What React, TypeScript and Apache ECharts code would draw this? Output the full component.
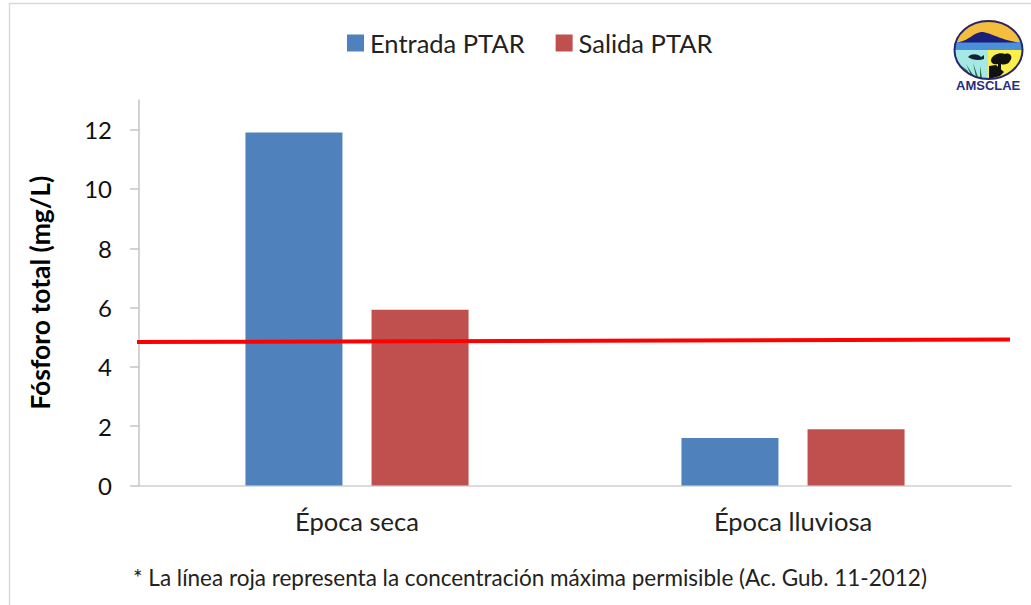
import React, { useEffect, useRef } from "react";
import * as echarts from "echarts";

const categories = ["Época seca", "Época lluviosa"];
const entrada = [11.9, 1.6];
const salida = [5.93, 1.9];
const limitLine = [[-5, 4.84], [871, 4.92]];
const yTicks = [0, 2, 4, 6, 8, 10, 12];
const footnote = "* La línea roja representa la concentración máxima permisible (Ac. Gub. 11-2012)";
const FONT = "Lato";

const ell = "M954.5 50 A34 29 0 0 1 1022.5 50 A34 29 0 0 1 954.5 50 Z";
echarts.graphic.registerShape("logoSky", echarts.graphic.extendPath("M955 44 A34 29 0 0 1 1022 44 Z", {}));
echarts.graphic.registerShape("logoMount", echarts.graphic.extendPath("M958 42.5 C970 40 973 33 981 32 C990 32 998 39 1018 42.5 Z", {}));
echarts.graphic.registerShape("logoBand", echarts.graphic.extendPath("M955 42 L1022 42 L1022.5 50 L954.5 50 Z", {}));
echarts.graphic.registerShape("logoLeft", echarts.graphic.extendPath("M954.5 50 L988 50 L988 79 A34 29 0 0 1 954.5 50 Z", {}));
echarts.graphic.registerShape("logoRight", echarts.graphic.extendPath("M988 50 L1022.5 50 A34 29 0 0 1 988 79 Z", {}));
echarts.graphic.registerShape("logoShore", echarts.graphic.extendPath("M989 66 L996 65 L1004 72 L1000 76 L989 79 Z", {}));
echarts.graphic.registerShape("logoTree", echarts.graphic.extendPath("M991 60 C992 55 1000 52 1005 54 C1011 52 1013 58 1010 61 C1008 65 1003 65 1001 64 L1001 70 L998 70 L998 64 C995 65 991 64 991 60 Z", {}));
echarts.graphic.registerShape("logoFish", echarts.graphic.extendPath("M968 57 C972 53 978 54 981 57 L984 55 L984 59 C979 61 972 60 968 57 Z", {}));
echarts.graphic.registerShape("logoGrass", echarts.graphic.extendPath("M966 64 L971 75 L973 75 Z M973 63 L976 77 L978 77 Z M980 66 L980 78 L982 78 Z M962 66 L967 72 L968 71 Z", {}));
echarts.graphic.registerShape("logoOutline", echarts.graphic.extendPath(ell, {}));

export default function App() {
  const ref = useRef<HTMLDivElement>(null);
  useEffect(() => {
    document.body.style.margin = "0";
    const chart = echarts.init(ref.current!, null, { renderer: "svg" });
    chart.setOption({
      animation: false,
      backgroundColor: "#fff",
      textStyle: { fontFamily: FONT },
      legend: {
        top: 25,
        left: 342,
        icon: "rect",
        itemWidth: 17,
        itemHeight: 17,
        itemGap: 31,
        data: ["Entrada PTAR", "Salida PTAR"],
        textStyle: { fontFamily: FONT, fontSize: 25.5, color: "#222", padding: [0, 0, 0, 1] },
      },
      grid: { left: 139, right: 20, top: 100, bottom: 119.5 },
      xAxis: [
        {
          type: "category",
          data: categories,
          axisLine: { lineStyle: { color: "#d0d0d0", width: 1.5 } },
          axisTick: { show: false },
          axisLabel: { fontFamily: FONT, fontSize: 25.5, color: "#222", margin: 22 },
        },
        { type: "value", min: 0, max: 872, show: false },
      ],
      yAxis: {
        type: "value",
        min: 0,
        max: 13,
        interval: 2,
        name: "Fósforo total (mg/L)",
        nameLocation: "middle",
        nameGap: 86,
        nameTextStyle: { fontFamily: FONT, fontSize: 26.5, fontWeight: "bold", color: "#000" },
        axisLine: { show: true, lineStyle: { color: "#c4c4c4", width: 1.5 } },
        axisTick: { show: true, length: 9, customValues: yTicks, lineStyle: { color: "#c4c4c4", width: 1.5 } },
        axisLabel: { fontFamily: FONT, fontSize: 24, color: "#111", margin: 27, customValues: yTicks },
        splitLine: { show: false },
      },
      series: [
        { name: "Entrada PTAR", type: "bar", data: entrada, barWidth: 97, barGap: "30%", itemStyle: { color: "#4F81BD" } },
        { name: "Salida PTAR", type: "bar", data: salida, barWidth: 97, barGap: "30%", itemStyle: { color: "#C0504D" } },
        {
          name: "Límite",
          type: "line",
          xAxisIndex: 1,
          data: limitLine,
          symbol: "none",
          clip: false,
          lineStyle: { color: "#FF0000", width: 4 },
          z: 5,
        },
      ],
      graphic: [
        { type: "line", shape: { x1: 9, y1: 3.5, x2: 1031, y2: 3.5 }, style: { stroke: "#d9d9d9", lineWidth: 1.5 } },
        { type: "line", shape: { x1: 9.5, y1: 3, x2: 9.5, y2: 605 }, style: { stroke: "#d9d9d9", lineWidth: 1.5 } },
        {
          type: "text",
          x: 133,
          y: 566,
          style: { text: footnote, fontFamily: FONT, fontSize: 22.5, fill: "#222" },
        },
        { type: "logoSky", style: { fill: "#F4BE3C" } },
        { type: "logoBand", style: { fill: "#4A90D9" } },
        { type: "logoMount", style: { fill: "#1B1F7A" } },
        { type: "logoLeft", style: { fill: "#A5E8E4" } },
        { type: "logoRight", style: { fill: "#FBEF4A" } },
        { type: "logoShore", style: { fill: "#111" } },
        { type: "logoTree", style: { fill: "#111" } },
        { type: "logoFish", style: { fill: "#123" } },
        { type: "logoGrass", style: { fill: "#2E6B45" } },
        { type: "logoOutline", style: { fill: "none", stroke: "#26266E", lineWidth: 2 } },
        {
          type: "text",
          x: 956,
          y: 79,
          style: { text: "AMSCLAE", fontFamily: "Liberation Sans", fontWeight: "bold", fontSize: 13, fill: "#2B2C7C" },
        },
      ],
    });
    return () => chart.dispose();
  }, []);
  return <div ref={ref} style={{ width: 1031, height: 605 }} />;
}
